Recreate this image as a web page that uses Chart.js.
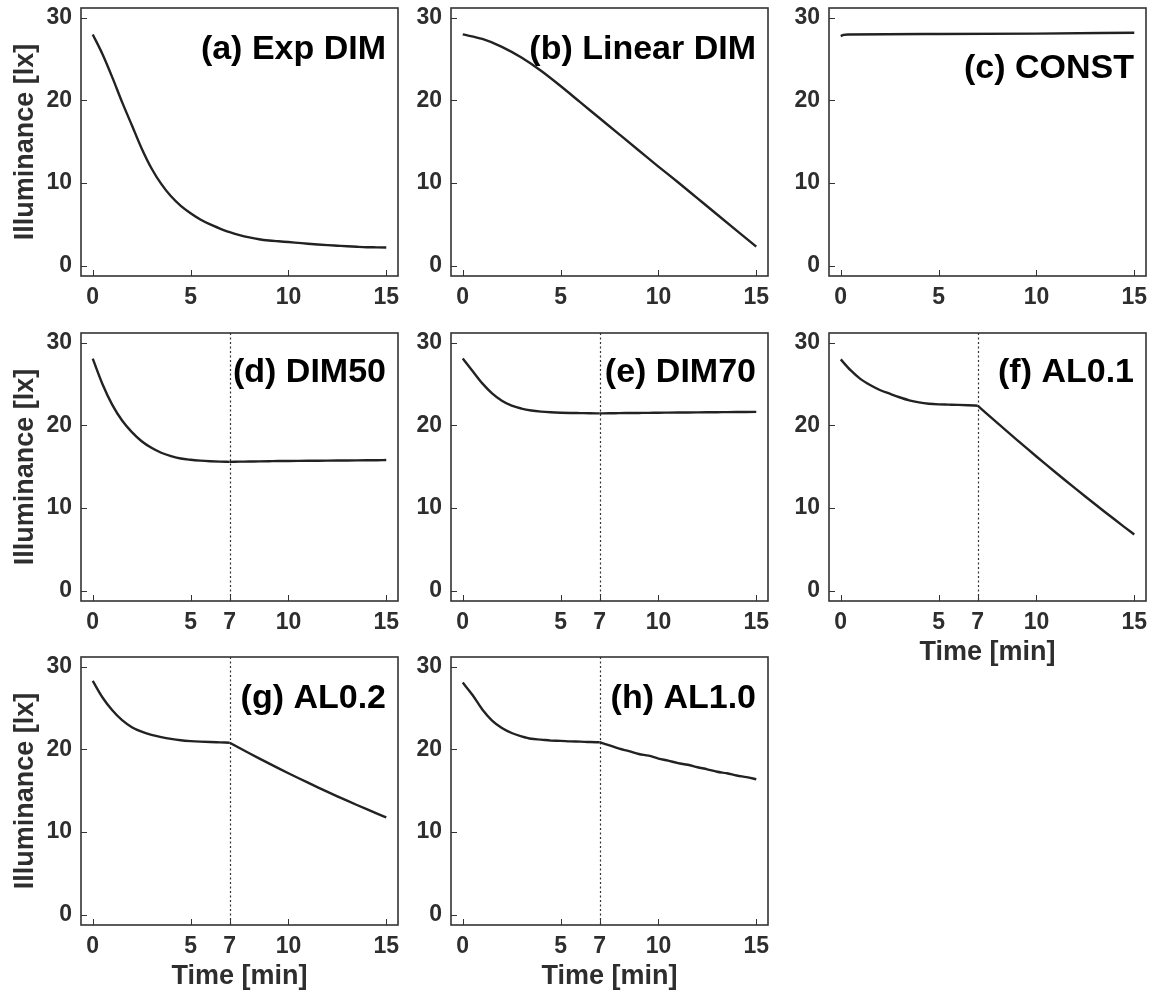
<!DOCTYPE html>
<html lang="en">

<head>
    <meta charset="UTF-8" />
    <title>Illuminance profiles</title>
    <script src="https://cdn.jsdelivr.net/npm/chart.js"></script>
    <style>
        body {
            margin: 0;
            background: #fff;
            overflow: hidden;
        }

        #panels {
            position: relative;
            width: 1162px;
            height: 994px;
        }

        #panels canvas {
            position: absolute;
        }
    </style>
</head>

<body>
    <div id="panels"></div>

    <script>
        // sample times [min]
        const minutes = [0, 0.5, 1, 1.5, 2, 2.5, 3, 3.5, 4, 4.5, 5, 5.5, 6, 6.5, 7, 7.5,
            8, 8.5, 9, 9.5, 10, 10.5, 11, 11.5, 12, 12.5, 13, 13.5, 14, 14.5, 15];
        const wholeMinutes = [0, 1, 2, 3, 4, 5, 6, 7, 8, 9, 10, 11, 12, 13, 14, 15];
        const constMinutes = [0, 0.15, 0.4, 5, 10, 15];

        // illuminance [lx]
        const expDim = [28.0, 25.6, 22.8, 19.8, 17.0, 14.2, 11.8, 9.9, 8.4, 7.25, 6.35, 5.6, 5.0, 4.5, 4.05, 3.7,
            3.42, 3.2, 3.05, 2.95, 2.86, 2.76, 2.66, 2.57, 2.49, 2.42, 2.35, 2.29, 2.24, 2.22, 2.2];
        const linearDim = [28.0, 27.45, 26.5, 25.2, 23.6, 21.75, 19.8, 17.85, 15.9, 13.95, 12.0, 10.1, 8.15, 6.2, 4.25, 2.3];
        const constant = [27.8, 27.95, 28.0, 28.05, 28.1, 28.2];
        const dim50 = [28.1, 25.0, 22.5, 20.6, 19.2, 18.1, 17.3, 16.7, 16.3, 16.0, 15.85, 15.75, 15.68, 15.63, 15.6, 15.62,
            15.64, 15.66, 15.68, 15.7, 15.71, 15.72, 15.73, 15.74, 15.75, 15.76, 15.77, 15.78, 15.79, 15.8, 15.82];
        const dim70 = [28.1, 26.6, 25.1, 23.9, 23.0, 22.4, 22.05, 21.82, 21.68, 21.6, 21.55, 21.52, 21.5, 21.48, 21.47, 21.48,
            21.5, 21.51, 21.52, 21.53, 21.55, 21.56, 21.57, 21.58, 21.59, 21.6, 21.61, 21.62, 21.63, 21.64, 21.65];
        const al01 = [28.0, 26.7, 25.65, 24.9, 24.3, 23.85, 23.42, 23.05, 22.8, 22.64, 22.56, 22.53, 22.5, 22.46, 22.4, 21.35,
            20.31, 19.28, 18.26, 17.25, 16.25, 15.26, 14.28, 13.31, 12.35, 11.4, 10.46, 9.53, 8.61, 7.7, 6.8];
        const al02 = [28.3, 26.3, 24.75, 23.55, 22.7, 22.15, 21.78, 21.5, 21.28, 21.12, 21.02, 20.95, 20.9, 20.86, 20.82, 20.18,
            19.55, 18.93, 18.32, 17.72, 17.13, 16.55, 15.98, 15.42, 14.87, 14.33, 13.8, 13.28, 12.77, 12.27, 11.78];
        const al10 = [28.1, 26.6, 24.85, 23.5, 22.6, 22.0, 21.6, 21.3, 21.2, 21.08, 21.05, 20.98, 20.95, 20.9, 20.88, 20.5,
            20.1, 19.8, 19.45, 19.25, 18.9, 18.65, 18.35, 18.15, 17.85, 17.6, 17.3, 17.12, 16.85, 16.65, 16.4];

        const xTicksPlain = [0, 5, 10, 15];
        const xTicksSwitch = [0, 5, 7, 10, 15];
        const yTicks = [0, 10, 20, 30];
        const switchTime = 7;

        const panels = [
            { label: "(a) Exp DIM", t: minutes, v: expDim, xTicks: xTicksPlain, col: 0, row: 0, drop: 51 },
            { label: "(b) Linear DIM", t: wholeMinutes, v: linearDim, xTicks: xTicksPlain, col: 1, row: 0, drop: 51 },
            { label: "(c) CONST", t: constMinutes, v: constant, xTicks: xTicksPlain, col: 2, row: 0, drop: 70 },
            { label: "(d) DIM50", t: minutes, v: dim50, xTicks: xTicksSwitch, col: 0, row: 1, drop: 49, marker: true },
            { label: "(e) DIM70", t: minutes, v: dim70, xTicks: xTicksSwitch, col: 1, row: 1, drop: 49, marker: true },
            { label: "(f) AL0.1", t: minutes, v: al01, xTicks: xTicksSwitch, col: 2, row: 1, drop: 49, marker: true, xTitle: true },
            { label: "(g) AL0.2", t: minutes, v: al02, xTicks: xTicksSwitch, col: 0, row: 2, drop: 51, marker: true, xTitle: true },
            { label: "(h) AL1.0", t: minutes, v: al10, xTicks: xTicksSwitch, col: 1, row: 2, drop: 51, marker: true, xTitle: true }
        ];

        // plot box geometry
        const colLeft = [81, 451, 829];
        const rowTop = [8, 333, 657];
        const boxW = 317;
        const boxH = 268;
        const yAxisW = 80;
        const xAxisH = 72;
        const padTop = 10;
        const padRight = 20;

        const FONT = "'Liberation Sans', Arial, Helvetica, sans-serif";
        const ink = "#2e2e2e";

        // frame, inward tick marks, switch-time marker and panel label
        const framePlugin = {
            id: "frame",
            beforeDatasetsDraw(chart, args, opts) {
                if (!opts.marker) return;
                const { ctx, chartArea } = chart;
                const px = Math.round(chart.scales.x.getPixelForValue(switchTime)) + 0.5;
                ctx.save();
                ctx.strokeStyle = "#333";
                ctx.lineWidth = 1.2;
                ctx.setLineDash([2, 2.5]);
                ctx.beginPath();
                ctx.moveTo(px, chartArea.top);
                ctx.lineTo(px, chartArea.bottom);
                ctx.stroke();
                ctx.restore();
            },
            afterDraw(chart, args, opts) {
                const { ctx, chartArea } = chart;
                const xs = chart.scales.x, ys = chart.scales.y;
                ctx.save();
                ctx.strokeStyle = "#333";
                ctx.lineWidth = 1;
                ctx.beginPath();
                xs.ticks.forEach(tk => {
                    const px = Math.round(xs.getPixelForValue(tk.value)) + 0.5;
                    ctx.moveTo(px, chartArea.bottom);
                    ctx.lineTo(px, chartArea.bottom - 6);
                });
                ys.ticks.forEach(tk => {
                    const py = Math.round(ys.getPixelForValue(tk.value)) + 0.5;
                    ctx.moveTo(chartArea.left, py);
                    ctx.lineTo(chartArea.left + 6, py);
                });
                ctx.stroke();

                ctx.lineWidth = 1.6;
                ctx.strokeRect(chartArea.left, chartArea.top, chartArea.right - chartArea.left, chartArea.bottom - chartArea.top);

                ctx.fillStyle = "#000";
                ctx.font = "bold 34px " + FONT;
                ctx.textAlign = "right";
                ctx.textBaseline = "alphabetic";
                ctx.fillText(opts.label, chartArea.right - 12, chartArea.top + opts.drop);
                ctx.restore();
            }
        };

        // one monotone piece per control phase so the switch corner stays sharp
        function pieces(p) {
            const pts = p.t.map((t, i) => ({ x: t, y: p.v[i] }));
            if (!p.marker) return [pts];
            return [pts.filter(d => d.x <= switchTime), pts.filter(d => d.x >= switchTime)];
        }

        const holder = document.getElementById("panels");

        panels.forEach(p => {
            const canvas = document.createElement("canvas");
            canvas.width = yAxisW + boxW + padRight;
            canvas.height = padTop + boxH + xAxisH;
            canvas.style.left = (colLeft[p.col] - yAxisW) + "px";
            canvas.style.top = (rowTop[p.row] - padTop) + "px";
            holder.appendChild(canvas);

            const tickFont = { family: FONT, size: 23, weight: "bold" };
            const titleFont = { family: FONT, size: 27, weight: "bold" };

            new Chart(canvas.getContext("2d"), {
                type: "line",
                data: {
                    datasets: pieces(p).map(pts => ({
                        data: pts,
                        borderColor: "#222",
                        borderWidth: 2.4,
                        pointRadius: 0,
                        cubicInterpolationMode: "monotone",
                        fill: false
                    }))
                },
                options: {
                    responsive: false,
                    animation: false,
                    layout: { padding: { top: padTop, right: padRight, left: 0, bottom: 0 } },
                    plugins: {
                        legend: { display: false },
                        tooltip: { enabled: false },
                        frame: { label: p.label, drop: p.drop, marker: !!p.marker }
                    },
                    scales: {
                        x: {
                            type: "linear",
                            min: -0.6,
                            max: 15.6,
                            afterBuildTicks: s => { s.ticks = p.xTicks.map(v => ({ value: v })); },
                            afterFit: s => {
                                s.height = xAxisH;
                                s.paddingLeft = 0;
                                s.paddingRight = 0;
                            },
                            grid: { display: false, drawTicks: false },
                            border: { display: false },
                            ticks: {
                                padding: 8,
                                color: ink,
                                font: tickFont,
                                autoSkip: false,
                                maxRotation: 0,
                                callback: v => String(v)
                            },
                            title: {
                                display: !!p.xTitle,
                                text: "Time [min]",
                                color: ink,
                                font: titleFont,
                                padding: { top: 0, bottom: 4 }
                            }
                        },
                        y: {
                            min: -1.25,
                            max: 31.2,
                            afterBuildTicks: s => { s.ticks = yTicks.map(v => ({ value: v })); },
                            afterFit: s => {
                                s.width = yAxisW;
                                s.paddingTop = 0;
                                s.paddingBottom = 0;
                            },
                            grid: { display: false, drawTicks: false },
                            border: { display: false },
                            ticks: {
                                padding: 9,
                                color: ink,
                                font: tickFont,
                                autoSkip: false,
                                callback: v => String(v)
                            },
                            title: {
                                display: p.col === 0,
                                text: "Illuminance [lx]",
                                color: ink,
                                font: titleFont,
                                padding: { top: 8, bottom: 0 }
                            }
                        }
                    }
                },
                plugins: [framePlugin]
            });
        });
    </script>

</body>

</html>
